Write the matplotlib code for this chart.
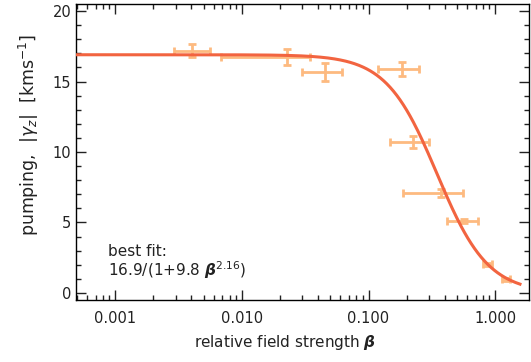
import numpy as np
import matplotlib
matplotlib.use("Agg")
from matplotlib import pyplot as plt
from matplotlib.ticker import FixedLocator, MultipleLocator, LogLocator, NullFormatter

# measured points: field strength beta and pumping |gamma_z|
beta = [0.00406, 0.0228, 0.0454, 0.185, 0.224, 0.372, 0.569, 0.869, 1.22]
beta_lo = [0.0029, 0.0068, 0.0298, 0.119, 0.148, 0.186, 0.415, 0.80, 1.14]
beta_hi = [0.0056, 0.0346, 0.0614, 0.252, 0.303, 0.561, 0.728, 0.94, 1.32]
gamma = [17.18, 16.74, 15.7, 15.86, 10.73, 7.07, 5.13, 2.03, 0.97]
gamma_err = [0.45, 0.58, 0.63, 0.5, 0.42, 0.27, 0.15, 0.1, 0.1]

# best fit parameters
fit_a, fit_b, fit_c = 16.9, 9.8, 2.16

xticks = [0.001, 0.01, 0.1, 1.0]
xticklabels = ["0.001", "0.010", "0.100", "1.000"]

fig = plt.figure(figsize=(5.31, 3.62), dpi=100)
ax = fig.add_axes([76/531, 1 - 300/362, (529-76)/531, (300-4)/362])

err_color = "#FDBA80"
fit_color = "#F26440"
txt_color = "#222222"

b = np.array(beta)
xerr = [b - np.array(beta_lo), np.array(beta_hi) - b]
ax.errorbar(beta, gamma, xerr=xerr, yerr=gamma_err, fmt="none",
            ecolor=err_color, elinewidth=2.0, capsize=3, capthick=2.0, zorder=2)

bx = np.logspace(np.log10(0.0005), np.log10(1.57), 400)
ax.plot(bx, fit_a / (1 + fit_b * bx**fit_c), color=fit_color, lw=2.2, zorder=3)

ax.set_xscale("log")
ax.set_xlim(0.00049, 1.85)
ax.set_ylim(-0.5, 20.5)

ax.xaxis.set_major_locator(FixedLocator(xticks))
ax.set_xticklabels(xticklabels)
ax.xaxis.set_minor_locator(LogLocator(base=10, subs=np.arange(2, 10)))
ax.xaxis.set_minor_formatter(NullFormatter())
ax.yaxis.set_major_locator(MultipleLocator(5))
ax.yaxis.set_minor_locator(MultipleLocator(1))

ax.tick_params(which="both", direction="in", top=True, right=True,
               labelsize=10.5, colors=txt_color)
ax.tick_params(which="major", length=7, width=1)
ax.tick_params(which="minor", length=3.5, width=1)
ax.tick_params(axis="x", pad=8)
for s in ax.spines.values():
    s.set_linewidth(1.0)

ax.set_xlabel(r"relative field strength $\boldsymbol{\beta}$", fontsize=11,
              color=txt_color)
ax.xaxis.set_label_coords(0.462, -0.11)
ax.set_ylabel(r"pumping,  $|\gamma_z|$  [kms$^{-1}$]", fontsize=12.5,
              color=txt_color)
ax.yaxis.set_label_coords(-0.078, 0.557)

fit_text = "best fit:\n" + r"16.9/(1+9.8 $\boldsymbol{\beta}^{2.16}$)"
ax.text(0.00088, 1.2, fit_text, fontsize=11, color=txt_color,
        va="baseline", linespacing=1.0)

fig.savefig("out.png", dpi=100)
